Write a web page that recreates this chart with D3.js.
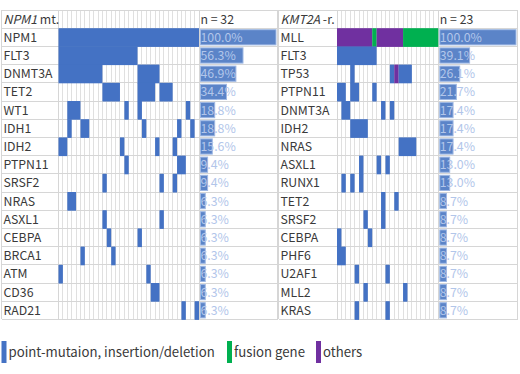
<!DOCTYPE html>
<html><head><meta charset="utf-8">
<script src="https://cdn.jsdelivr.net/npm/d3@7"></script>
<style>
html,body{margin:0;padding:0;background:#fff;}
svg{display:block;font-family:"Noto Sans CJK JP","Noto Sans",sans-serif;}
</style></head>
<body><svg id="c" width="520" height="374"></svg>
<script>
// ---------- data ----------
const npmGenes = ["NPM1","FLT3","DNMT3A","TET2","WT1","IDH1","IDH2","PTPN11","SRSF2","NRAS","ASXL1","CEBPA","BRCA1","ATM","CD36","RAD21"];
const npmPct = [100.0,56.3,46.9,34.4,18.8,18.8,15.6,9.4,9.4,6.3,6.3,6.3,6.3,6.3,6.3,6.3];
// runs of mutated samples: [firstSample, lastSample, type]
const npmRuns = [
  [[0,31,"m"]],
  [[0,17,"m"]],
  [[0,9,"m"],[18,22,"m"]],
  [[10,13,"m"],[18,21,"m"],[23,25,"m"]],
  [[2,4,"m"],[15,15,"m"],[18,18,"m"],[29,29,"m"]],
  [[2,2,"m"],[5,6,"m"],[19,19,"m"],[27,27,"m"],[30,30,"m"]],
  [[0,1,"m"],[14,14,"m"],[22,22,"m"],[26,26,"m"]],
  [[15,15,"m"],[27,28,"m"]],
  [[10,10,"m"],[23,23,"m"],[26,26,"m"]],
  [[2,3,"m"]],
  [[10,10,"m"],[23,23,"m"]],
  [[11,11,"m"],[18,18,"m"]],
  [[5,5,"m"],[12,12,"m"]],
  [[0,0,"m"],[20,20,"m"]],
  [[21,22,"m"]],
  [[28,28,"m"],[31,31,"m"]]
];
const npmN = 32;

const kmtGenes = ["MLL","FLT3","TP53","PTPN11","DNMT3A","IDH2","NRAS","ASXL1","RUNX1","TET2","SRSF2","CEBPA","PHF6","U2AF1","MLL2","KRAS"];
const kmtPct = [100.0,39.1,26.1,21.7,17.4,17.4,17.4,13.0,13.0,8.7,8.7,8.7,8.7,8.7,8.7,8.7];
const kmtRuns = [
  [[0,7,"o"],[8,8,"f"],[9,14,"o"],[15,22,"f"]],
  [[0,8,"m"]],
  [[3,3,"m"],[12,12,"m"],[13,13,"o"],[14,16,"m"]],
  [[0,1,"m"],[3,4,"m"],[8,8,"m"]],
  [[1,2,"m"],[10,10,"m"],[12,12,"m"]],
  [[3,6,"m"]],
  [[14,17,"m"]],
  [[5,5,"m"],[9,9,"m"],[11,11,"m"]],
  [[1,1,"m"],[3,3,"m"],[5,5,"m"]],
  [[10,10,"m"],[13,13,"m"]],
  [[6,6,"m"],[10,10,"m"]],
  [[0,0,"m"],[7,7,"m"]],
  [[0,1,"m"]],
  [[4,4,"m"],[11,11,"m"]],
  [[6,6,"m"],[15,15,"m"]],
  [[4,4,"m"],[11,11,"m"]]
];
const kmtN = 23;

const typeNames = ["point-mutaion, insertion/deletion","fusion gene","others"];
const typeKeys = ["m","f","o"];
const typeColors = ["#4472c4","#00b050","#7030a0"];

// ---------- drawing ----------
const svg = d3.select("#c");
const color = d3.scaleOrdinal().domain(typeKeys).range(typeColors);
const gridColor = "#e0e0e0";
const lineColor = "#d6d6d6";
const textColor = "#3a3a3a";
const fs = 12.3;

function panel(cfg){
  const g = svg.append("g");
  const rowsDomain = ["__header"].concat(cfg.genes);
  const y = d3.scaleBand().domain(rowsDomain).range([10, 319.4]);
  const x = d3.scaleBand().domain(d3.range(cfg.n)).range([cfg.gx0, cfg.gx1]);
  const pw = d3.scaleLinear().domain([0,100]).range([0, cfg.px1 - cfg.gx1 - 3]);
  const rh = y.bandwidth();

  g.append("g").selectAll("line").data(d3.range(cfg.n + 1)).join("line")
    .attr("x1", i => i < cfg.n ? x(i) : cfg.gx1).attr("x2", i => i < cfg.n ? x(i) : cfg.gx1)
    .attr("y1", y.range()[0]).attr("y2", y.range()[1])
    .attr("stroke", gridColor).attr("stroke-width", 1).attr("shape-rendering","crispEdges");

  g.append("g").selectAll("line").data(rowsDomain.concat(["__end"])).join("line")
    .attr("x1", cfg.x0).attr("x2", cfg.px1)
    .attr("y1", d => d === "__end" ? y.range()[1] : y(d))
    .attr("y2", d => d === "__end" ? y.range()[1] : y(d))
    .attr("stroke", lineColor).attr("stroke-width", 1).attr("shape-rendering","crispEdges");

  g.append("g").selectAll("line").data([cfg.x0, cfg.gx0, cfg.gx1, cfg.px1]).join("line")
    .attr("x1", d => d).attr("x2", d => d)
    .attr("y1", y.range()[0]).attr("y2", y.range()[1])
    .attr("stroke", lineColor).attr("stroke-width", 1).attr("shape-rendering","crispEdges");

  const cells = [];
  cfg.runs.forEach((runs, gi) => runs.forEach(r => cells.push({gene: cfg.genes[gi], s: r[0], e: r[1], t: r[2]})));
  g.append("g").selectAll("rect").data(cells).join("rect")
    .attr("x", d => x(d.s))
    .attr("y", d => y(d.gene))
    .attr("width", d => x(d.e) + x.bandwidth() - x(d.s))
    .attr("height", rh + 0.5)
    .attr("fill", d => color(d.t));

  g.append("g").selectAll("rect").data(cfg.genes).join("rect")
    .attr("x", cfg.gx1 + 1.5)
    .attr("y", d => y(d) + 1.5)
    .attr("width", (d,i) => pw(cfg.pct[i]))
    .attr("height", rh - 3)
    .attr("fill", "#5b84c8")
    .attr("stroke", "#9fb8e3").attr("stroke-width", 1);

  g.append("g").selectAll("text").data(cfg.genes).join("text")
    .attr("x", cfg.x0 + 2).attr("y", d => y(d) + rh/2 + 4.4)
    .attr("font-size", fs).attr("fill", textColor).text(d => d);

  g.append("g").selectAll("text").data(cfg.genes).join("text")
    .attr("x", cfg.gx1 + 1.5).attr("y", d => y(d) + rh/2 + 4.4)
    .attr("font-size", fs).attr("fill", "#b2c6ea")
    .text((d,i) => cfg.pct[i].toFixed(1) + "%");

  const ht = g.append("text").attr("x", cfg.x0 + 2).attr("y", y("__header") + rh/2 + 4.4)
    .attr("font-size", fs).attr("fill", textColor);
  ht.append("tspan").attr("font-style","italic").text(cfg.title);
  ht.append("tspan").text(cfg.suffix);
  g.append("text").attr("x", cfg.gx1 + 1.5).attr("y", y("__header") + rh/2 + 4.4)
    .attr("font-size", fs).attr("fill", textColor).text("n = " + cfg.n);
}

panel({genes: npmGenes, pct: npmPct, runs: npmRuns, n: npmN, x0: 1.5, gx0: 58.5, gx1: 199, px1: 277.5, title: "NPM1", suffix: " mt."});
panel({genes: kmtGenes, pct: kmtPct, runs: kmtRuns, n: kmtN, x0: 278.5, gx0: 337, gx1: 438.3, px1: 517.5, title: "KMT2A", suffix: " -r."});

const leg = svg.append("g");
const legX = [1.5, 227, 316];
typeKeys.forEach((k, i) => {
  leg.append("rect").attr("x", legX[i]).attr("y", 341).attr("width", 5).attr("height", 22).attr("fill", color(k));
  leg.append("text").attr("x", legX[i] + 7).attr("y", 357).attr("font-size", 13.2).attr("fill", textColor).text(typeNames[i]);
});
</script></body></html>
